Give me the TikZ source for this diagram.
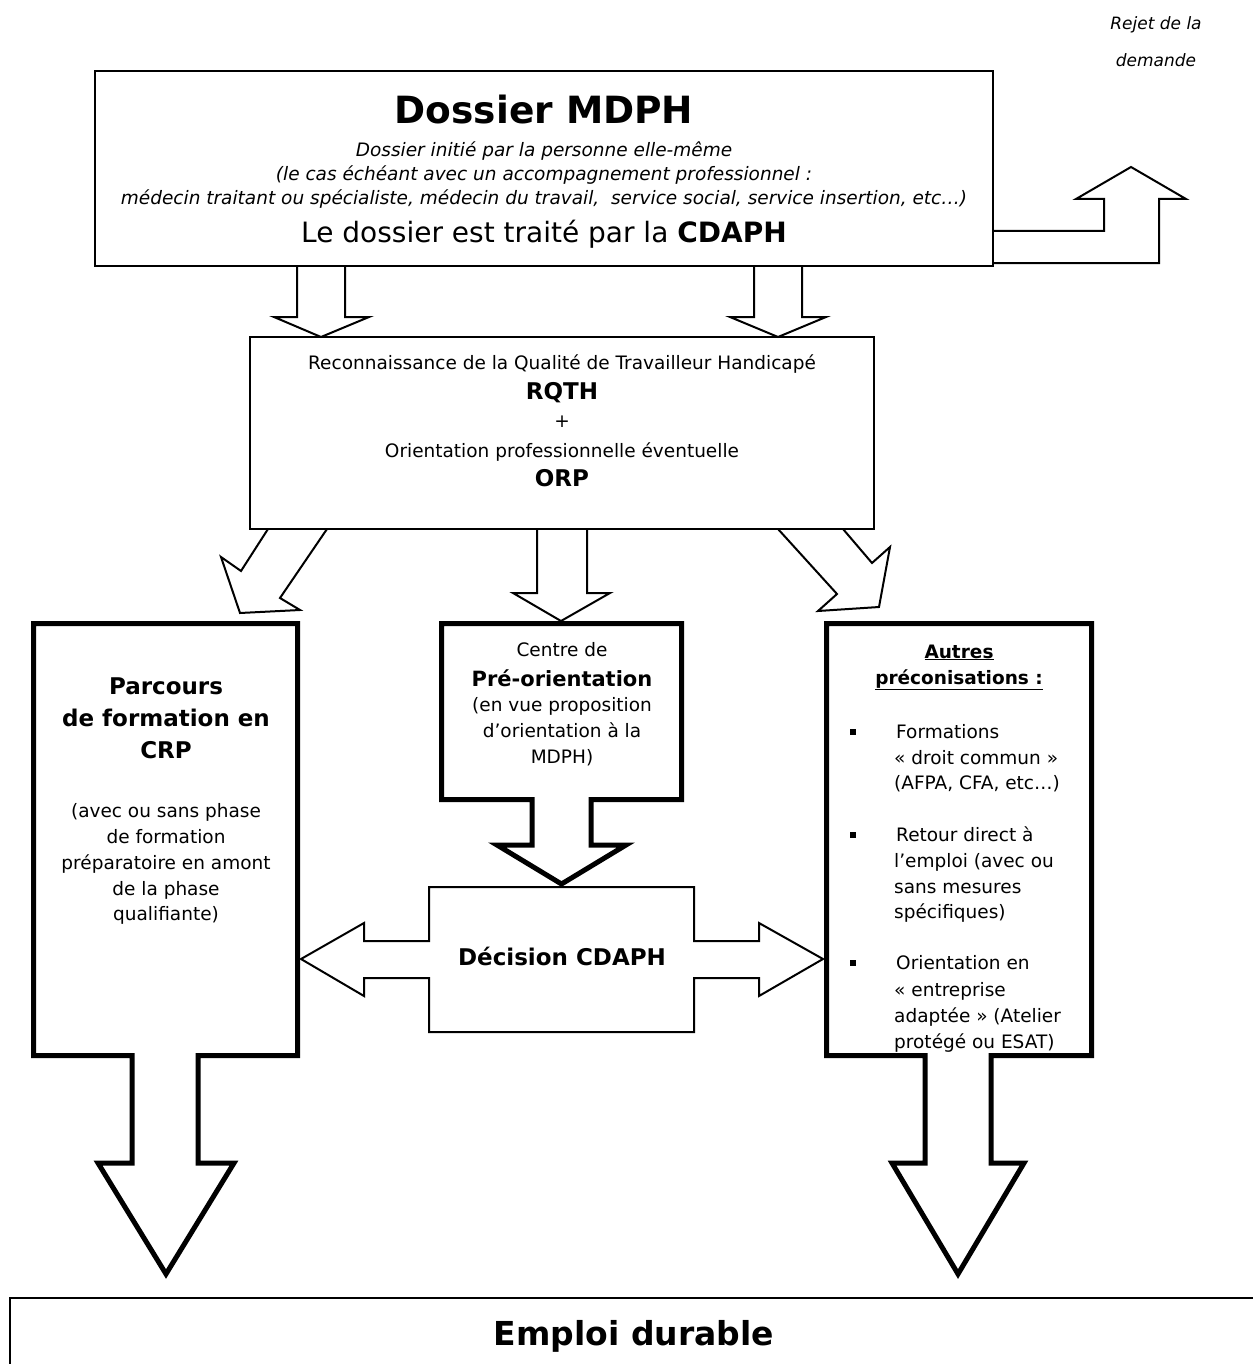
\documentclass[tikz,border=0pt]{standalone}
\usepackage{fontspec}
\setmainfont{DejaVu Sans}
\newcommand\fsz[2]{\fontsize{#1}{#2}\selectfont}
\begin{document}
\begin{tikzpicture}[x=1pt,y=-1pt,
  thinbox/.style={draw=black,line width=2pt,inner sep=0pt,outer sep=0pt},
  thinarrow/.style={draw=black,line width=2pt,line join=miter},
  thickarrow/.style={draw=black,line width=5pt,line join=miter},
  lbl/.style={inner sep=0pt,anchor=base},
  body/.style={lbl,font=\fsz{18.5}{24}},
  bodyl/.style={inner sep=0pt,anchor=base west,font=\fsz{18.5}{24}},
  head/.style={lbl,font=\fsz{23}{28}\bfseries},
  ital/.style={lbl,font=\fsz{18.5}{22}\itshape},
  bullet/.style={fill=black,draw=none,minimum size=6pt,inner sep=0pt}]
\useasboundingbox (0,0) rectangle (1252,1364);

% ---------- boxes ----------
\node[thinbox,minimum width=898pt,minimum height=195pt] (mdph) at (544,168.5) {};
\node[thinbox,minimum width=624pt,minimum height=192pt] (rqth) at (562,433) {};
\node[thinbox,minimum width=1260pt,minimum height=100pt] (emploi) at (640,1348) {};

% rejet arrow
\draw[thinarrow] (993,231) -- (1104,231) -- (1104,199) -- (1076,199) -- (1131,167)
  -- (1186,199) -- (1159,199) -- (1159,263) -- (993,263);

% arrows MDPH -> RQTH
\draw[thinarrow] (297,266) -- (297,317) -- (274,317) -- (321,337) -- (369,317) -- (345,317) -- (345,266);
\draw[thinarrow] (754,266) -- (754,317) -- (730,317) -- (778,337) -- (826,317) -- (802,317) -- (802,266);

% arrows RQTH -> three boxes
\draw[thinarrow] (268,529) -- (241,571) -- (221,557) -- (240,613) -- (300,610) -- (280,598) -- (327,529);
\draw[thinarrow] (537,529) -- (537,593) -- (513,593) -- (561,621) -- (610,593) -- (587,593) -- (587,529);
\draw[thinarrow] (778,529) -- (837,594) -- (818,611) -- (879,607) -- (890,547) -- (872,563) -- (843,529);

% CRP box with down arrow
\draw[thickarrow] (132,1163) -- (132,1055.5) -- (33.5,1055.5) -- (33.5,623.5) -- (297.5,623.5)
  -- (297.5,1055.5) -- (198,1055.5) -- (198,1163) -- (234,1163) -- (166,1274) -- (98,1163) -- cycle;
\coordinate (crp) at (166,840);

% Autres box with down arrow
\draw[thickarrow] (925,1163) -- (925,1055.5) -- (826.5,1055.5) -- (826.5,623.5) -- (1091.5,623.5)
  -- (1091.5,1055.5) -- (991,1055.5) -- (991,1163) -- (1024,1163) -- (958,1274) -- (892,1163) -- cycle;
\coordinate (autres) at (959,840);

% Pre-orientation box with down arrow
\draw[thickarrow] (532,845) -- (532,799.5) -- (441.5,799.5) -- (441.5,623.5) -- (681.5,623.5)
  -- (681.5,799.5) -- (591,799.5) -- (591,845) -- (626,845) -- (561.5,884) -- (497,845) -- cycle;
\coordinate (preo) at (562,710);

% Decision box with double arrow
\draw[thinarrow] (429,887) -- (694,887) -- (694,941) -- (759,941) -- (759,923) -- (823,959)
  -- (759,996) -- (759,978) -- (694,978) -- (694,1032) -- (429,1032) -- (429,978) -- (364,978)
  -- (364,996) -- (301,959) -- (364,923) -- (364,941) -- (429,941) -- cycle;
\coordinate (dec) at (562,959);

% ---------- texts ----------
\node[lbl,font=\fsz{17}{22}\itshape] (rej1) at (1156,30) {Rejet de la};
\node[lbl,font=\fsz{17}{22}\itshape] (rej2) at (1156,67) {demande};

\node[lbl,font=\fsz{37.5}{40}\bfseries] (t0) at (544,124) {Dossier MDPH};
\node[ital] (t1) at (544,157) {Dossier initié par la personne elle-même};
\node[ital] (t2) at (544,181) {(le cas échéant avec un accompagnement professionnel :};
\node[ital] (t3) at (544,205) {médecin traitant ou spécialiste, médecin du travail,\ \ service social, service insertion, etc…)};
\node[lbl,font=\fsz{28}{30}] (t4) at (544,243) {Le dossier est traité par la \textbf{CDAPH}};

\node[body] (r1) at (562,369) {Reconnaissance de la Qualité de Travailleur Handicapé};
\node[head] (r2) at (562,399) {RQTH};
\node[body] (r3) at (562,427) {+};
\node[body] (r4) at (562,457) {Orientation professionnelle éventuelle};
\node[head] (r5) at (562,486) {ORP};

\node[head] (c1) at (166,694) {Parcours};
\node[head] (c2) at (166,726) {de formation en};
\node[head] (c3) at (166,758) {CRP};
\node[body] (c4) at (166,817) {(avec ou sans phase};
\node[body] (c5) at (166,843) {de formation};
\node[body] (c6) at (166,869) {préparatoire en amont};
\node[body] (c7) at (166,895) {de la phase};
\node[body] (c8) at (166,920) {qualifiante)};

\node[body] (p1) at (562,656) {Centre de};
\node[lbl,font=\fsz{21}{26}\bfseries] (p2) at (562,686) {Pré-orientation};
\node[body] (p3) at (562,711) {(en vue proposition};
\node[body] (p4) at (562,737) {d’orientation à la};
\node[body] (p5) at (562,763) {MDPH)};

\node[head] (d1) at (562,965) {Décision CDAPH};

\node[lbl,font=\fsz{18.5}{24}\bfseries] (a1) at (959,658) {\underline{Autres}};
\node[lbl,font=\fsz{18.5}{24}\bfseries] (a2) at (959,684) {\underline{préconisations :}};
\node[bullet] (b1) at (853,732) {};
\node[bullet] (b2) at (853,835) {};
\node[bullet] (b3) at (853,963) {};
\node[bodyl] (i1) at (896,738) {Formations};
\node[bodyl] (i2) at (894,764) {« droit commun »};
\node[bodyl] (i3) at (894,789) {(AFPA, CFA, etc…)};
\node[bodyl] (i4) at (896,841) {Retour direct à};
\node[bodyl] (i5) at (894,867) {l’emploi (avec ou};
\node[bodyl] (i6) at (894,893) {sans mesures};
\node[bodyl] (i7) at (894,918) {spécifiques)};
\node[bodyl] (i8) at (896,969) {Orientation en};
\node[bodyl] (i9) at (894,996) {« entreprise};
\node[bodyl] (i10) at (894,1022) {adaptée » (Atelier};
\node[bodyl] (i11) at (894,1048) {protégé ou ESAT)};

\node[lbl,font=\fsz{33}{36}\bfseries] (e1) at (634,1345) {Emploi durable};
\end{tikzpicture}
\end{document}
